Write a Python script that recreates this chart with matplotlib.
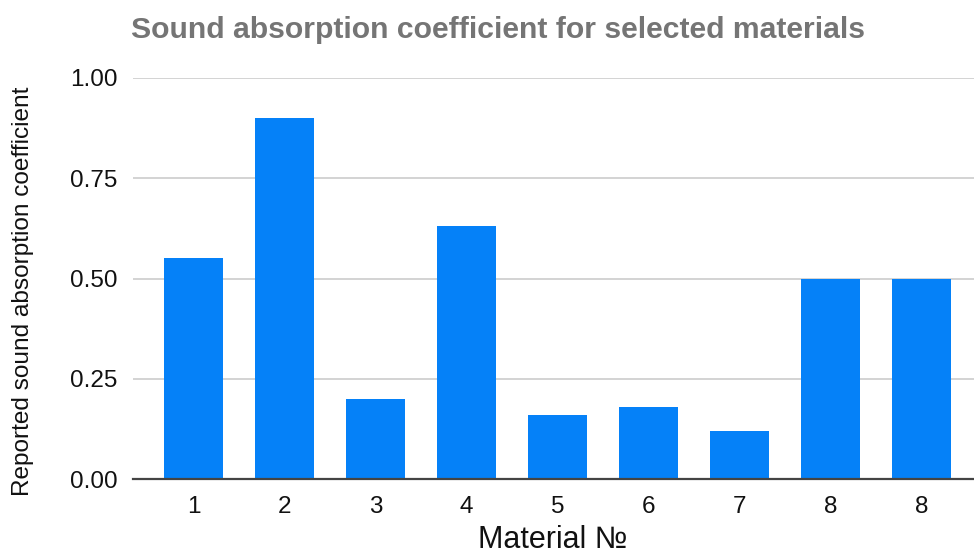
import matplotlib
matplotlib.use("Agg")
import matplotlib.pyplot as plt

plt.rcParams['font.family'] = ['Liberation Sans', 'DejaVu Sans']

categories = ["1", "2", "3", "4", "5", "6", "7", "8", "8"]
values = [0.55, 0.90, 0.20, 0.63, 0.16, 0.18, 0.12, 0.50, 0.50]
yticks = [0.0, 0.25, 0.5, 0.75, 1.0]
ytick_labels = ["0.00", "0.25", "0.50", "0.75", "1.00"]

fig = plt.figure(figsize=(9.74, 5.54), dpi=100)
ax = fig.add_axes([133/974, 1 - 479/554, 1 - 133/974, (479 - 78)/554])

x = list(range(len(categories)))
ax.bar(x, values, width=0.65, color="#0581F8", zorder=3)

ax.set_ylim(0, 1.0)
ax.set_xlim(-0.665, 8.58)
ax.set_yticks(yticks)
ax.set_yticklabels(ytick_labels)
ax.set_xticks(x)
ax.set_xticklabels(categories)
ax.tick_params(axis='both', length=0, labelsize=17.5, colors="#111111")
ax.tick_params(axis='y', pad=11)
ax.tick_params(axis='x', pad=12)
ax.grid(axis='y', color="#cccccc", linewidth=1.2, zorder=0)
for s in ['top', 'right', 'left']:
    ax.spines[s].set_visible(False)
ax.spines['bottom'].set_color("#444444")
ax.spines['bottom'].set_linewidth(1.6)
ax.spines['bottom'].set_zorder(4)

fig.text(553/974, 1 - 540/554, "Material №", fontsize=22, color="#111111",
         ha='center', va='center')
fig.text(23/974, 1 - 291/554, "Reported sound absorption coefficient", fontsize=17.6,
         color="#111111", rotation=90, ha='center', va='center')

fig.text(498/974, 1 - 30/554, "Sound absorption coefficient for selected materials",
         ha='center', va='center', fontsize=21.7, fontweight='bold', color="#757575")

fig.savefig("out.png", dpi=100)
